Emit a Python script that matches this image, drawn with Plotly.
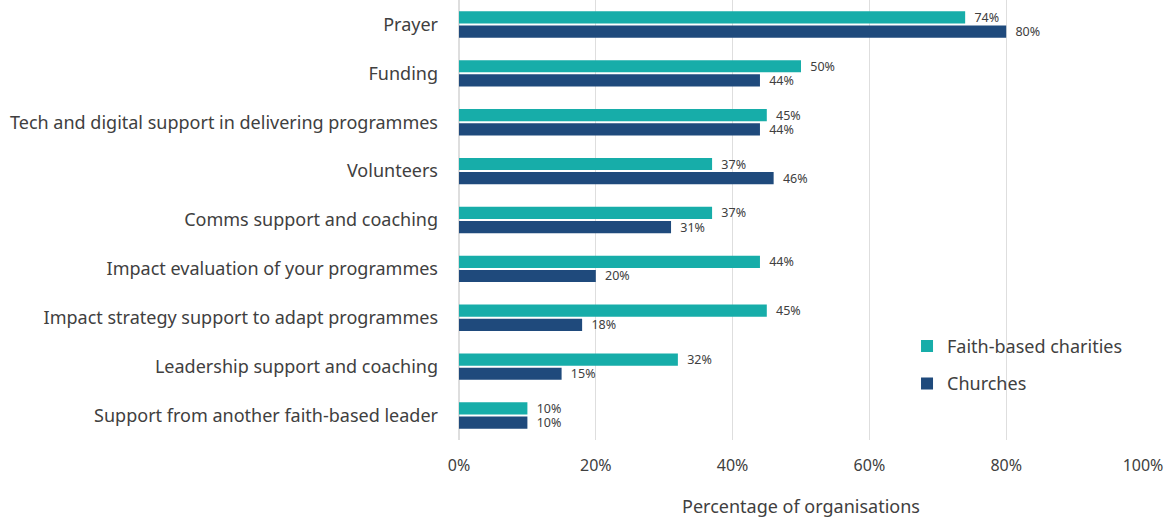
import plotly.graph_objects as go

categories = [
    "Prayer",
    "Funding",
    "Tech and digital support in delivering programmes",
    "Volunteers",
    "Comms support and coaching",
    "Impact evaluation of your programmes",
    "Impact strategy support to adapt programmes",
    "Leadership support and coaching",
    "Support from another faith-based leader",
]
faith_based = [74, 50, 45, 37, 37, 44, 45, 32, 10]
churches = [80, 44, 44, 46, 31, 20, 18, 15, 10]
x_ticks = [0, 20, 40, 60, 80, 100]
x_tick_labels = ["0%", "20%", "40%", "60%", "80%", "100%"]

TEAL = "#17ada9"
NAVY = "#1f4a7c"
TEXT = "#404040"
FONT = "Noto Sans"

fig = go.Figure()
for name, vals, col, grp in [
    ("Faith-based charities", faith_based, TEAL, "a"),
    ("Churches", churches, NAVY, "b"),
]:
    fig.add_trace(go.Bar(
        y=categories, x=vals, name=name, orientation="h",
        marker=dict(color=col, line=dict(width=0)),
        text=[f"\u2002{v}%" for v in vals], textposition="outside",
        constraintext="none",
        textfont=dict(size=12.5, color=TEXT, family=FONT),
        cliponaxis=False, legendgroup=grp,
    ))

fig.update_layout(
    width=1165, height=518,
    margin=dict(l=459, r=22, t=0, b=78),
    barmode="group", bargap=0.42, bargroupgap=0.14,
    plot_bgcolor="white", paper_bgcolor="white",
    font=dict(family=FONT, color=TEXT, size=16),
    xaxis=dict(
        range=[0, 100], tickvals=x_ticks, ticktext=x_tick_labels,
        showgrid=True, gridcolor="#dedede", gridwidth=1,
        zeroline=True, zerolinecolor="#dedede",
        tickfont=dict(size=16, color=TEXT), ticks="", ticklen=0,
        ticklabelstandoff=14,
        title=dict(text="Percentage of organisations", font=dict(size=18, color=TEXT), standoff=26),
        fixedrange=True,
    ),
    yaxis=dict(
        autorange="reversed", tickfont=dict(size=18, color=TEXT),
        ticks="", ticklabelstandoff=20, showgrid=False, fixedrange=True,
    ),
    legend=dict(
        x=0.655, y=0.255, xanchor="left", yanchor="top",
        font=dict(size=18, color=TEXT), traceorder="grouped",
        tracegroupgap=11, itemwidth=30, bgcolor="rgba(0,0,0,0)",
    ),
    showlegend=True,
)

fig.write_html("out.html")
